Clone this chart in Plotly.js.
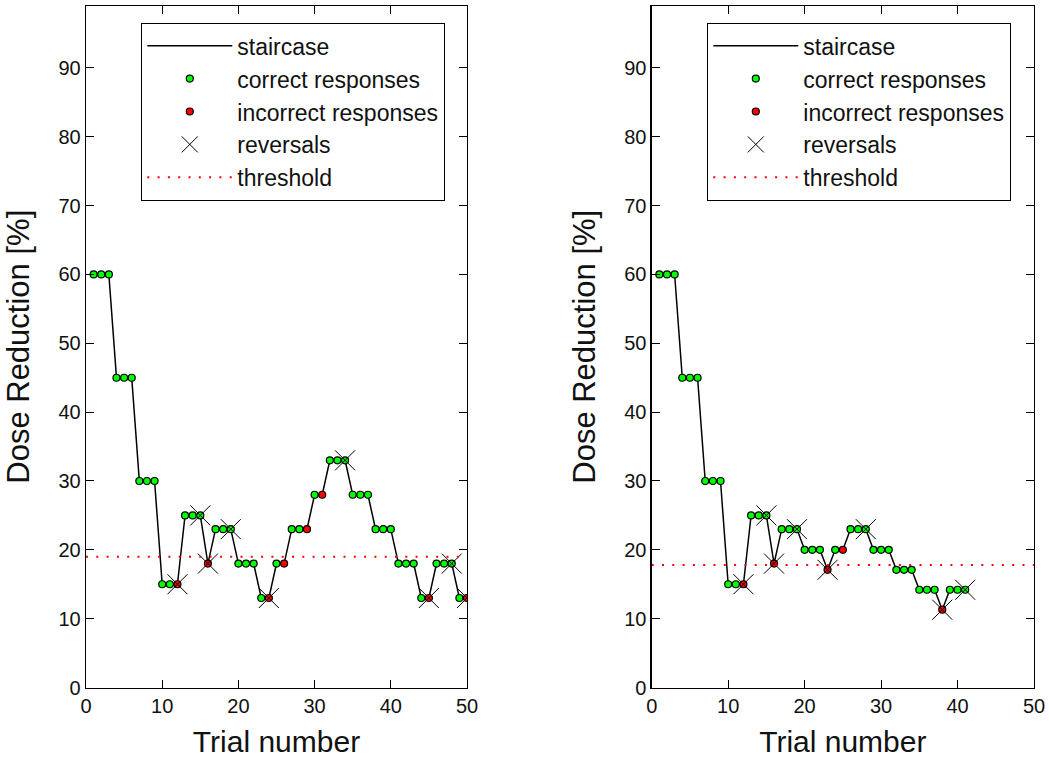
<!DOCTYPE html>
<html>
<head>
<meta charset="utf-8">
<script src="https://cdn.plot.ly/plotly-3.0.1.min.js"></script>
<style>html,body{margin:0;padding:0;background:#fff;}#chart{width:1049px;height:758px;}</style>
</head>
<body>
<div id="chart"></div>
<script>
// ---- Left panel data ----
const trialsA = [1,2,3,4,5,6,7,8,9,10,11,12,13,14,15,16,17,18,19,20,21,22,23,24,25,26,27,28,29,30,31,32,33,34,35,36,37,38,39,40,41,42,43,44,45,46,47,48,49,50];
const doseA   = [60,60,60,45,45,45,30,30,30,15,15,15,25,25,25,18,23,23,23,18,18,18,13,13,18,18,23,23,23,28,28,33,33,33,28,28,28,23,23,23,18,18,18,13,13,18,18,18,13,13];
const incorrectTrialsA = [12,16,24,26,29,31,45,50];
const reversalTrialsA  = [12,15,16,19,24,34,45,48,50];
const thresholdA = 19;

// ---- Right panel data ----
const trialsB = [1,2,3,4,5,6,7,8,9,10,11,12,13,14,15,16,17,18,19,20,21,22,23,24,25,26,27,28,29,30,31,32,33,34,35,36,37,38,39,40,41];
const doseB   = [60,60,60,45,45,45,30,30,30,15,15,15,25,25,25,18,23,23,23,20,20,20,17.1,20,20,23,23,23,20,20,20,17.1,17.1,17.1,14.2,14.2,14.2,11.3,14.2,14.2,14.2];
const incorrectTrialsB = [12,16,23,25,38];
const reversalTrialsB  = [12,15,16,19,23,28,38,41];
const thresholdB = 17.8;

const xLimits = [0, 50];
const legendLabels = ['staircase','correct responses','incorrect responses','reversals','threshold'];

const FONT = 'Liberation Sans, Arial, sans-serif';

function pick(trials, dose, list, keep) {
  const xs = [], ys = [];
  trials.forEach((t, i) => {
    const inList = list.indexOf(t) >= 0;
    if (inList === keep) { xs.push(t); ys.push(dose[i]); }
  });
  return {x: xs, y: ys};
}

function panel(trials, dose, incorrect, reversals, thr, xa, ya, leg) {
  const correct = pick(trials, dose, incorrect, false);
  const wrong = pick(trials, dose, incorrect, true);
  const rev = pick(trials, dose, reversals, true);
  return [
    {type:'scatter', mode:'lines', x:trials, y:dose, xaxis:xa, yaxis:ya, legend:leg,
     name:legendLabels[0], legendgroup:leg+'a', line:{color:'#000', width:1.5}},
    {type:'scatter', mode:'markers', x:correct.x, y:correct.y, xaxis:xa, yaxis:ya, legend:leg,
     name:legendLabels[1], legendgroup:leg+'b',
     marker:{symbol:'circle', size:7, color:'#00ff00', line:{color:'#000', width:1.2}}},
    {type:'scatter', mode:'markers', x:wrong.x, y:wrong.y, xaxis:xa, yaxis:ya, legend:leg,
     name:legendLabels[2], legendgroup:leg+'c',
     marker:{symbol:'circle', size:7, color:'#ff0000', line:{color:'#000', width:1.2}}},
    {type:'scatter', mode:'markers', x:rev.x, y:rev.y, xaxis:xa, yaxis:ya, legend:leg,
     name:legendLabels[3], legendgroup:leg+'d',
     marker:{symbol:'x-thin-open', size:20, color:'#000', line:{color:'#000', width:1}}},
    {type:'scatter', mode:'lines', x:xLimits, y:[thr, thr], xaxis:xa, yaxis:ya, legend:leg,
     name:legendLabels[4], legendgroup:leg+'e',
     line:{color:'#ff0000', width:2, dash:'2px,8.3px'}}
  ];
}

const data = [].concat(
  panel(trialsA, doseA, incorrectTrialsA, reversalTrialsA, thresholdA, 'x', 'y', 'legend'),
  panel(trialsB, doseB, incorrectTrialsB, reversalTrialsB, thresholdB, 'x2', 'y2', 'legend2')
);

function xAxis(domain, anchor) {
  return {domain:domain, anchor:anchor, range:xLimits, tickvals:[0,10,20,30,40,50],
    ticks:'inside', ticklen:8, tickwidth:1, tickcolor:'#000', mirror:'ticks',
    showline:true, linecolor:'#000', linewidth:1.3, showgrid:false, zeroline:false,
    tickfont:{family:FONT, size:20, color:'#111'},
    title:{text:'Trial number', font:{family:FONT, size:30, color:'#111'}, standoff:17}};
}
function yAxis(domain, anchor) {
  return {domain:domain, anchor:anchor, range:[0, 99], tickvals:[0,10,20,30,40,50,60,70,80,90],
    ticks:'inside', ticklen:8, tickwidth:1, tickcolor:'#000', mirror:'ticks',
    showline:true, linecolor:'#000', linewidth:1.3, showgrid:false, zeroline:false,
    tickfont:{family:FONT, size:20, color:'#111'},
    title:{text:'Dose Reduction [%]', font:{family:FONT, size:31, color:'#111'}, standoff:19}};
}
function legendBox(x) {
  return {x:x, y:0.9697, xanchor:'left', yanchor:'top', bgcolor:'#fff', bordercolor:'#000',
    borderwidth:1.3, font:{family:FONT, size:23, color:'#111'}, itemwidth:85,
    tracegroupgap:0, itemclick:false, itemdoubleclick:false};
}

const yDom = [1 - 687.5/758, 1 - 6/758];
const layout = {
  width:1049, height:758,
  margin:{l:0, r:0, t:0, b:0},
  paper_bgcolor:'#fff', plot_bgcolor:'#fff',
  showlegend:true,
  xaxis: xAxis([86/1049, 467/1049], 'y'),
  yaxis: yAxis(yDom, 'x'),
  xaxis2: xAxis([651.7/1049, 1034/1049], 'y2'),
  yaxis2: yAxis(yDom, 'x2'),
  legend: legendBox(141/1049),
  legend2: legendBox(707/1049)
};

Plotly.newPlot('chart', data, layout, {displayModeBar:false, staticPlot:true});
</script>
</body>
</html>
